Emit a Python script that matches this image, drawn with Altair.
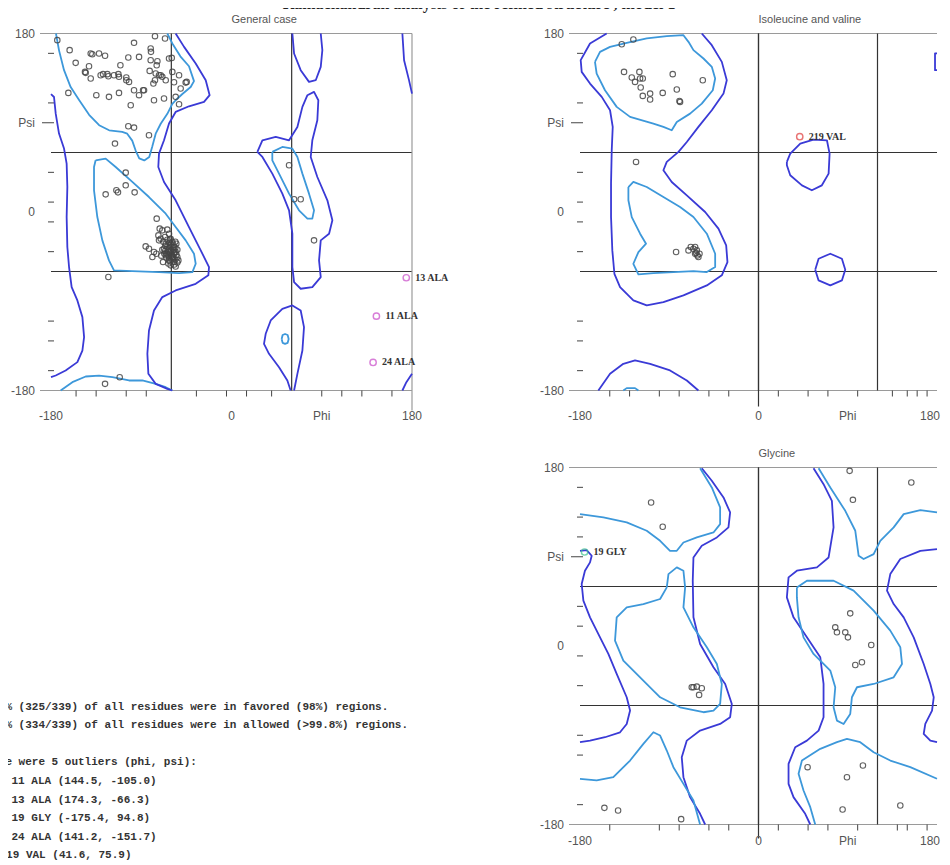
import altair as alt
import pandas as pd

DARK = "#3a3ad6"
LIGHT = "#3d98da"
GRID = "#333333"
FRAME = "#9a9a9a"
AXIS_TXT = "#555555"
PT = "#454545"

MAIN_TITLE = "Ramachandran analysis of the refined structure , model 1"
PANEL_TITLES = ["General case", "Isoleucine and valine", "Glycine"]

# ---------------- General case contours (phi, psi) ----------------
GEN_FAV_BETA = [(-175, 180), (-174.7, 178), (-172, 163), (-167, 143), (-160.4, 126), (-152, 113), (-142, 98),
                (-132, 87.5), (-122, 82.4), (-109, 80.7), (-104, 79), (-99, 72), (-95.6, 62), (-92, 54), (-87, 52),
                (-82, 55.5), (-79, 66), (-75.6, 79), (-70.6, 89), (-64, 99), (-59, 109), (-55.7, 112.7), (-49, 119),
                (-40.7, 126), (-37.4, 132), (-42.4, 147), (-51, 157), (-59, 170), (-64, 180)]
GEN_FAV_ALPHA = [(-135.5, 52.1), (-125.5, 53.8), (-115.5, 45.4), (-98.9, 30.3), (-82.3, 15.1), (-65.6, -1.7),
                 (-55.7, -15.2), (-45.7, -28.6), (-37.4, -42.1), (-35.7, -52.2), (-39, -60.6), (-52.3, -61.6),
                 (-72.3, -60.6), (-98.9, -59.6), (-117.2, -58.9), (-122.2, -48.8), (-128.8, -28.6), (-133.8, -5.1),
                 (-137.1, 21.9), (-137.1, 45.4), (-135.5, 52.1)]
GEN_FAV_BOTTOM = [(-170.4, -180), (-158.7, -171.6), (-145.4, -165.9), (-132.1, -164.9), (-118.8, -166.6),
                  (-102.2, -169.9), (-88.9, -169.9), (-75.6, -173.3), (-65.6, -176.7), (-59, -180)]
GEN_FAV_LALPHA = [(40.7, 60.6), (50.7, 65.6), (60.7, 63.9), (65.7, 55.5), (70.7, 38.7), (77.3, 18.5), (82.3, 1.7),
                  (80.6, -6.7), (75.7, -6.7), (67.3, 1.7), (57.4, 18.5), (47.4, 38.7), (40.7, 52.1), (40.7, 60.6)]
GEN_FAV_OVAL = [(50, -128), (51, -124), (53.4, -123), (56, -124), (57, -128), (56, -132), (53.4, -133), (51, -132),
                (50, -128)]
GEN_ALW_LEFT = [(-180, 118.8), (-177, 116), (-175.3, 99.2), (-172, 79.1), (-167, 64), (-164.4, 48.8), (-163.7, 25.2),
                (-164.4, -5.1), (-163.7, -35.3), (-162, -55.5), (-159.4, -75.7), (-153.7, -89.2), (-148.7, -106),
                (-147, -126.2), (-148.7, -139.7), (-153.7, -151.4), (-165.4, -159.8), (-175.3, -164.9), (-180, -166.6)]
GEN_ALW_EDGE_TOP = [(170.4, 180), (172.1, 153), (177, 133), (180, 119.4)]
GEN_ALW_EDGE_BOT = [(180, -163.2), (174.4, -171.6), (170.4, -180)]
GEN_ALW_MAIN = [(-55.7, 180), (-47.3, 166.5), (-35.7, 149.7), (-25.7, 132.9), (-21.8, 117.8), (-27.4, 111),
                (-42.4, 106.6), (-55.7, 100.9), (-62.3, 89.2), (-67.3, 72.3), (-72.3, 58.9), (-73, 45.4),
                (-67.3, 30.3), (-55.7, 11.8), (-42.4, -15.2), (-30.7, -38.7), (-22.4, -55.5), (-23.1, -63.9),
                (-35.7, -72.4), (-55.7, -79.1), (-69, -85.8), (-77.3, -99.3), (-82.3, -119.5), (-83.9, -143),
                (-82.9, -163.2), (-75.6, -173.3), (-64, -178.3), (-59, -180)]
GEN_ALW_LALPHA = [(25.8, 60.6), (30.8, 72.3), (44.1, 75.7), (57.4, 72.3), (65.7, 85.8), (70.7, 106), (75.7, 117.8),
                  (82.3, 121.1), (86.6, 112.7), (85.6, 92.5), (80.6, 72.3), (79, 55.5), (85.6, 35.3), (95.6, 11.8),
                  (100.6, -8.4), (97.3, -21.9), (89, -28.6), (87.3, -48.8), (89, -65.6), (80.6, -75.7), (69, -77.4),
                  (62.4, -70.7), (60.7, -55.5), (60.7, -21.9), (57.4, 1.7), (50.7, 18.5), (40.7, 38.7), (30.8, 55.5),
                  (25.8, 60.6)]
GEN_ALW_TOPU = [(60.7, 180), (62.4, 159.8), (69, 143), (77.3, 131.2), (84, 132.9), (89, 146.4), (90.6, 163.2),
                (89, 180)]
GEN_ALW_BOTU = [(59, -180), (55.7, -169.9), (47.4, -156.5), (37.4, -143), (32.4, -132.9), (34.1, -122.8),
                (39.1, -109.4), (50.7, -97.6), (60.7, -94.2), (69, -99.3), (72.3, -116.1), (70.7, -139.7),
                (65.7, -163.2), (62.4, -180)]

GEN_PTS = [(-161.4, 163.2), (-140.4, 159.8), (-138.8, 159.1), (-132.1, 159.8), (-126.1, 157.5), (-155.4, 150.4),
           (-142.1, 147), (-145.4, 140.3), (-128.1, 139), (-130.5, 137.9), (-123.8, 139), (-112.8, 139),
           (-112.2, 136.3), (-104.9, 135.6), (-102.2, 131.2), (-110.8, 148), (-102.9, 155.8), (-97.2, 170.6),
           (-92.2, 156.4), (-80.6, 164.9), (-80.3, 161.5), (-80.6, 153.1), (-73.9, 152.1), (-74.6, 148),
           (-81.6, 142.3), (-75.6, 139.6), (-70.6, 137.9), (-65.6, 132.9), (-59, 141.3), (-52.3, 137.9),
           (-45.7, 130.5), (-57.3, 130.9), (-50.7, 124.5), (-55.7, 116.1), (-67.3, 114.4), (-77.3, 112.7),
           (-87.2, 122.8), (-92.2, 117.8), (-97.2, 122.8), (-112.2, 120.1), (-122.2, 116.1), (-134.8, 117.8),
           (-162.7, 120.1), (-100.5, 107.7), (-102.9, 86.5), (-97.2, 85.1), (-82.3, 77.4), (-116.2, 69),
           (-76.3, 177.3), (-66.3, 175), (-59.6, 155.4), (-173.7, 173.3), (-146.1, 141.3), (-140.4, 134.6),
           (-122.8, 136.9), (-117.2, 137.9), (-104.9, 132.9), (-88.2, 122.8), (-77.9, 129.5), (-76.3, 132.9),
           (-72.3, 137.9), (-69, 136.3), (-62.3, 154.8), (-52.3, 108.7), (-44.7, 131.2),
           (-125.5, 17.8), (-114.8, 21.9), (-113.2, 19.8), (-105.5, 26.9), (-96.6, 19.8), (-105.5, 39.7),
           (-74.6, -6.7), (-71.6, -16.8), (-69, -18.5), (-64, -17.8), (-72.9, -23.6), (-70.6, -26.9),
           (-66.3, -25.2), (-62.3, -21.9), (-60.7, -26.9), (-65.6, -32), (-61.6, -33.7), (-59, -30.3),
           (-57.3, -35.3), (-60.7, -38.7), (-55.7, -40.4), (-64, -42.1), (-59, -45.4), (-54, -45.4),
           (-62.3, -48.8), (-57.3, -50.5), (-53, -48.8), (-85.6, -34.7), (-82.3, -37), (-77.3, -40.4),
           (-74.9, -42.1), (-78.9, -45.4), (-68.3, -50.5), (-60.7, -53.8), (-55.7, -54.9), (-122.8, -65.6),
           (-72.3, -28.6), (-67.3, -37), (-65.6, -43.7), (-59.6, -42.7), (-55, -32), (-62.9, -37),
           (-63, -40), (-61, -41), (-66, -39), (-58, -38), (-64, -35), (-60, -44), (-62, -46), (-57, -42),
           (-58, -33), (-56, -36), (-54, -38), (-57, -40), (-55, -43), (-58, -46), (-56, -48), (-61, -50),
           (-63, -44), (-65, -46), (-67, -42), (-66, -34), (-62, -31), (-60, -35), (-59, -47), (-54, -51),
           (-57, -53), (-63, -52), (-61, -28), (-64, -28), (-68, -30), (-69, -38), (-70, -44), (-56, -30),
           (57.4, 47.1), (62.4, 12.8), (69, 12.8), (82.3, -28.6), (-126.1, -173.3), (-111.5, -166.6)]
GEN_OUT = [("13 ALA", 174.3, -66.3, "#c848c8"), ("11 ALA", 144.5, -105.0, "#c848c8"),
           ("24 ALA", 141.2, -151.7, "#c848c8")]

# ---------------- Isoleucine and valine ----------------
ILE_FAV_BETA = [(-164.9, 151.4), (-159.8, 161.5), (-149.7, 166.5), (-132.9, 170.6), (-112.7, 175), (-92.5, 177.3),
                (-75.7, 178.3), (-70.6, 171.6), (-65.6, 163.2), (-55.5, 154.8), (-47.1, 146.4), (-43.7, 134.6),
                (-46.1, 122.8), (-57.2, 109.3), (-69, 99.2), (-82.4, 90.8), (-87.5, 82.4), (-95.9, 85.8),
                (-106, 89.2), (-129.5, 95.9), (-143, 106), (-154.8, 122.8), (-163.2, 139.6), (-164.9, 151.4)]
ILE_FAV_ALPHA = [(-131.2, 25.2), (-126.2, 30.3), (-112.7, 25.2), (-95.9, 15.1), (-79.1, 5), (-65.6, -5.1),
                 (-52.1, -21.9), (-43.7, -42.1), (-43.7, -55.5), (-52.1, -60.6), (-65.6, -59.6), (-85.8, -60.6),
                 (-106, -61.6), (-121.1, -62.9), (-126.2, -52.2), (-121.1, -40.4), (-113.4, -32), (-119.4, -21.9),
                 (-127.8, -5.1), (-131.2, 11.8), (-131.2, 25.2)]
ILE_FAV_BOTTOM = [(-136.3, -180), (-132.9, -177.6), (-124.5, -177.6), (-121.1, -180)]
ILE_ALW_MAIN = [(-153.1, 180), (-169.9, 169.9), (-179.3, 153.1), (-178.3, 141.3), (-169.9, 129.5), (-158.1, 116.1),
                (-149.7, 102.6), (-147, 85.8), (-148, 62.2), (-148.7, 28.6), (-148.7, -5.1), (-147.4, -38.7),
                (-145.3, -62.3), (-139.6, -75.7), (-126.2, -89.2), (-112.7, -94.2), (-95.9, -90.9), (-75.7, -84.1),
                (-52.1, -74), (-37, -63.9), (-31.3, -50.5), (-32.6, -33.7), (-40.4, -16.8), (-53.8, 0),
                (-72.3, 16.8), (-87.5, 30.3), (-95.9, 42.1), (-92.5, 50.5), (-80.7, 60.6), (-72.3, 70.6),
                (-60.6, 85.8), (-47.1, 102.6), (-35.3, 119.4), (-32, 132.9), (-37, 151.4), (-47.1, 168.2),
                (-57.2, 180)]
ILE_ALW_BOTTOM = [(-161.5, -180), (-149.7, -163.2), (-136.3, -153.1), (-124.5, -149.7), (-109.3, -153.1),
                  (-89.2, -159.8), (-72.3, -169.9), (-60.6, -180)]
ILE_ALW_RING1 = [(28.6, 50.5), (32, 58.9), (42.1, 69), (55.5, 73), (69, 72.3), (71.7, 58.9), (70.7, 38.7),
                 (63.9, 26.9), (53.8, 21.9), (43.8, 26.9), (32, 37), (28.6, 47.1), (28.6, 50.5)]
ILE_ALW_RING2 = [(57.2, -58.2), (60.6, -47.1), (72.4, -42.1), (84.1, -47.1), (87.5, -58.2), (84.1, -69),
                 (72.4, -74), (60.6, -69), (57.2, -58.2)]
ILE_ALW_EDGE = [(180, 160), (178, 160), (178, 143), (180, 143)]
ILE_PTS = [(-137.9, 169.2), (-126.2, 173.9), (-135.6, 141.3), (-127.8, 135.6), (-124.5, 131.2), (-120.1, 141.3),
           (-119.4, 134.6), (-116.7, 134.6), (-118.8, 125.5), (-116.7, 117.1), (-109.3, 119.4), (-109.3, 113.4),
           (-96.6, 120.1), (-86.5, 139), (-82.4, 123.5), (-79.7, 112), (-79.1, 111), (-56.2, 132.9),
           (-123.5, 50.5), (-83.1, -40.4), (-70.6, -38.7), (-68.3, -35.3), (-65.6, -37), (-63.9, -35.3),
           (-62.2, -38.7), (-62.9, -41.4), (-61.6, -43.8), (-60.6, -45.4), (-63.9, -42.1), (-59.5, -42.1)]
ILE_OUT = [("219 VAL", 41.6, 75.9, "#e03a3a")]

# ---------------- Glycine ----------------
GLY_ALW_A = [(-57.2, 179.3), (-47.1, 166.6), (-35.3, 149.8), (-28.6, 134.7), (-30.3, 119.6), (-42, 109.5),
             (-57.2, 101.1), (-65.6, 89.3), (-66.3, 65.8), (-65.6, 28.9), (-58.9, 2), (-45.4, -21.5),
             (-33.6, -38.3), (-26.9, -58.4), (-28.6, -71.8), (-38.7, -78.6), (-58.9, -85.3), (-72.3, -95.4),
             (-77.4, -112.1), (-75.7, -132.3), (-69, -152.4), (-58.9, -169.2), (-53.8, -180)]
GLY_ALW_LEFT = [(-180, 96), (-173.3, 96.7), (-168.2, 91), (-169.9, 84.3), (-175, 75.9), (-178.3, 62.5),
                (-176.6, 45.7), (-169.9, 28.9), (-159.8, 8.7), (-151.4, -8), (-143, -28.2), (-132.9, -51.7),
                (-129.5, -65.1), (-132.9, -78.6), (-139.6, -87), (-154.8, -92), (-169.9, -95.4), (-180, -97)]
GLY_ALW_MID = [(55.5, 179.3), (65.6, 163.2), (74, 146.4), (75.7, 119.6), (70.7, 89.3), (58.9, 79.3), (38.7, 75.9),
               (30.3, 69.2), (28.6, 49), (35.3, 28.9), (48.8, 8.7), (62.3, -11.4), (65.6, -38.3), (65.6, -71.8),
               (60.6, -85.3), (48.8, -95.4), (37, -102.1), (30.3, -118.9), (30.3, -139), (35.3, -152.4),
               (47.1, -169.2), (52.2, -180)]
GLY_ALW_RIGHT = [(180, 97.7), (163.2, 96), (143, 87.7), (132.9, 72.5), (129.6, 55.8), (136.3, 42.3), (146.4, 28.9),
                 (156.5, 8.7), (166.6, -18.1), (173.3, -38.3), (176.7, -51.7), (175, -65.1), (168.2, -78.6),
                 (166.6, -88.6), (173.3, -95.4), (180, -97)]
GLY_FAV_B = [(-180, 133), (-156.4, 129.6), (-132.9, 124.6), (-112.7, 116.2), (-99.2, 106.1), (-89.2, 96),
             (-82.4, 96), (-75.7, 104.4), (-62.2, 109.5), (-45.4, 114.5), (-38.7, 122.9), (-38.7, 139.7),
             (-47.1, 159.9), (-58.9, 179.3)]
GLY_FAV_C = [(-92.5, 59.1), (-90.8, 72.5), (-82.4, 79.3), (-75.7, 75.9), (-74, 59.1), (-75.7, 39), (-65.6, 18.8),
             (-52.1, -1.3), (-42, -18.1), (-37, -38.3), (-38.7, -58.4), (-45.4, -65.1), (-55.5, -66.8),
             (-79.1, -61.8), (-99.2, -51.7), (-119.4, -31.6), (-136.3, -14.8), (-144.7, 5.4), (-143, 28.9),
             (-132.9, 39), (-116.1, 42.3), (-99.2, 47.4), (-92.5, 59.1)]
GLY_FAV_D = [(-180, -133.9), (-163.2, -135.6), (-146.4, -132.3), (-129.5, -115.5), (-116.1, -98.7), (-106, -87),
             (-99.2, -90.3), (-92.5, -105.4), (-85.8, -122.2), (-75.7, -139), (-65.6, -155.8), (-58.9, -180)]
GLY_FAV_E = [(38.7, 59.1), (48.8, 65.8), (75.7, 65.8), (95.9, 55.8), (116.1, 35.6), (132.9, 15.5), (143, -1.3),
             (144.7, -18.1), (136.3, -31.6), (116.1, -38.3), (99.3, -41.6), (94.2, -51.7), (92.5, -68.5),
             (85.8, -78.6), (79.1, -75.2), (75.7, -61.8), (77.4, -41.6), (72.4, -24.8), (55.5, -8), (45.4, 8.7),
             (40.4, 28.9), (38.7, 49), (38.7, 59.1)]
GLY_FAV_F = [(60.6, 179.3), (72.4, 159.9), (87.5, 136.3), (97.6, 116.2), (101, 91), (106, 87.7), (116.1, 92.7),
             (122.8, 106.1), (136.3, 119.6), (146.4, 133), (163.2, 137), (180, 134.7)]
GLY_FAV_G = [(57.2, -180), (52.2, -162.5), (45.4, -145.7), (40.4, -128.9), (43.8, -115.5), (62.3, -103.7),
             (79.1, -97), (89.2, -93.7), (102.6, -97), (116.1, -107.1), (132.9, -115.5), (153.1, -122.2),
             (180, -133.9)]
GLY_PTS = [(-108.3, 144.7), (-96.6, 120.2), (91.9, 176.6), (95.2, 147.4), (154.1, 164.9), (92.5, 32.9),
           (77.4, 18.8), (79.1, 13.8), (87.5, 13.8), (90.2, 8.7), (113.7, 1), (104.3, -16.4), (97.6, -19.1),
           (-65.6, -41.6), (-62.2, -41), (-57.2, -42.6), (-59.9, -49.3), (-67.3, -41.6), (49.5, -122.2),
           (89.2, -132.3), (105.3, -120.5), (84.8, -164.9), (143, -160.8), (-155.4, -163.2), (-141.6, -165.9),
           (-78, -174.6)]
GLY_OUT = [("19 GLY", -175.4, 94.8, "#3cc48c")]

# ---------------- axis decorations ----------------
X_LABEL_POS = [-180, 0, 90]
X_LABELS = ["-180", "0", "Phi"]
Y_LABEL_POS = [180, 90, 0, -180]
Y_LABELS = ["180", "Psi", "0", "-180"]
GEN_XT = [-155, -135, -105, -85, -35, -5, 15, 40, 90, 110, 130, 160]
GEN_YT = [160, 110, 40, 10, -10, -40, -110, -130, -160]
ILE_XT = [-150, -130, -100, -80, -50, -30, 20, 50, 70, 100, 135, 150, 160, 170]
ILE_YT = [160, 110, 40, 10, -10, -40, -110, -130, -160]
GLY_XT = [-150, -100, -80, -50, -30, 20, 50, 70, 100, 140, 150, 170]
GLY_YT = [160, 130, 110, 40, 20, -10, -40, -90, -110, -160]

# ---------------- summary text ----------------
TXT = ["95.9% (325/339) of all residues were in favored (98%) regions.",
       "98.5% (334/339) of all residues were in allowed (>99.8%) regions.",
       "There were 5 outliers (phi, psi):",
       "11 ALA (144.5, -105.0)",
       "13 ALA (174.3, -66.3)",
       "19 GLY (-175.4, 94.8)",
       "24 ALA (141.2, -151.7)",
       "219 VAL (41.6, 75.9)"]
LINE_IDX = [0, 1, 3, 4, 5, 6, 7, 8]
LINE_GROUP = ["head", "head", "head", "item", "item", "item", "item", "item3"]

SC = alt.Scale(domain=[-180, 180], nice=False, zero=False)


def xs(f):
    return alt.X(f, type="quantitative", scale=SC, axis=None)


def ys(f):
    return alt.Y(f, type="quantitative", scale=SC, axis=None)


def contour_df(paths):
    rows = []
    for i, (kind, pts) in enumerate(paths):
        for j, (a, b) in enumerate(pts):
            rows.append({"seg": "s%d" % i, "kind": kind, "ord": j, "phi": a, "psi": b})
    return pd.DataFrame(rows)


def panel(title, paths, pts, outl, vlines, long_tick, xticks, yticks, W, H, xlab_dy, edge_label, main=None):
    L = []
    L.append(alt.Chart(pd.DataFrame({"psi": [180, -180]})).mark_rule(color=FRAME, strokeWidth=1.2)
             .encode(y=ys("psi"), x=alt.value(-11), x2=alt.value(W)))
    L.append(alt.Chart(pd.DataFrame({"phi": vlines})).mark_rule(color=GRID, strokeWidth=1.2).encode(x=xs("phi")))
    L.append(alt.Chart(pd.DataFrame({"psi": [60, -60]})).mark_rule(color=GRID, strokeWidth=1.2).encode(y=ys("psi")))
    lt_phi, lt_col, lt_len = long_tick
    L.append(alt.Chart(pd.DataFrame({"phi": [lt_phi]})).mark_rule(color=lt_col, strokeWidth=1.2)
             .encode(x=xs("phi"), y=alt.value(0), y2=alt.value(H + lt_len)))
    L.append(alt.Chart(pd.DataFrame({"phi": xticks})).mark_rule(color="#444", strokeWidth=1)
             .encode(x=xs("phi"), y=alt.value(H), y2=alt.value(H + 6)))
    L.append(alt.Chart(pd.DataFrame({"psi": yticks})).mark_rule(color="#444", strokeWidth=1)
             .encode(y=ys("psi"), x=alt.value(-3), x2=alt.value(3)))
    L.append(alt.Chart(pd.DataFrame({"psi": [90]})).mark_rule(color="#444", strokeWidth=1)
             .encode(y=ys("psi"), x=alt.value(-9), x2=alt.value(3)))
    L.append(alt.Chart(contour_df(paths)).mark_line(strokeWidth=1.8, strokeJoin="round").encode(
        x=xs("phi"), y=ys("psi"),
        color=alt.Color("kind:N", scale=alt.Scale(domain=["allowed", "favored"], range=[DARK, LIGHT]), legend=None),
        detail="seg:N", order="ord:Q"))
    L.append(alt.Chart(pd.DataFrame(pts, columns=["phi", "psi"])).mark_point(
        shape="circle", filled=False, size=30, strokeWidth=1.1, color=PT, opacity=0.85).encode(x=xs("phi"), y=ys("psi")))
    odf = pd.DataFrame(outl, columns=["name", "phi", "psi", "col"])
    L.append(alt.Chart(odf).mark_point(shape="circle", filled=False, size=40, strokeWidth=1.4).encode(
        x=xs("phi"), y=ys("psi"), stroke=alt.Stroke("col:N", scale=None)))
    L.append(alt.Chart(odf).mark_text(align="left", baseline="middle", dx=9, font="Liberation Serif", fontSize=10,
                                      fontWeight="bold", color="#333").encode(x=xs("phi"), y=ys("psi"), text="name:N"))
    L.append(alt.Chart(pd.DataFrame({"phi": X_LABEL_POS, "lab": X_LABELS})).mark_text(
        baseline="middle", font="Liberation Sans", fontSize=12, color=AXIS_TXT).encode(
        x=xs("phi"), y=alt.value(H + xlab_dy), text="lab:N"))
    e_align, e_dx = edge_label
    L.append(alt.Chart(pd.DataFrame({"phi": [180], "lab": ["180"]})).mark_text(
        baseline="middle", align=e_align, dx=e_dx, font="Liberation Sans", fontSize=12, color=AXIS_TXT).encode(
        x=xs("phi"), y=alt.value(H + xlab_dy), text="lab:N"))
    L.append(alt.Chart(pd.DataFrame({"psi": Y_LABEL_POS, "lab": Y_LABELS})).mark_text(
        align="right", baseline="middle", font="Liberation Sans", fontSize=12, color=AXIS_TXT).encode(
        y=ys("psi"), x=alt.value(-16), text="lab:N"))
    L.append(alt.Chart(pd.DataFrame({"t": [title]})).mark_text(
        align="left", baseline="alphabetic", font="Liberation Sans", fontSize=11, color=AXIS_TXT).encode(
        x=alt.datum(0), y=alt.value(-11), text="t:N"))
    if main:
        L.append(alt.Chart(pd.DataFrame({"t": [main]})).mark_text(
            align="center", baseline="alphabetic", font="Liberation Serif", fontSize=16, fontWeight="bold",
            color="#222").encode(x=alt.value(428), y=alt.value(-25), text="t:N"))
    return alt.layer(*L).properties(width=W, height=H)


gen = panel(PANEL_TITLES[0],
            [("favored", GEN_FAV_BETA), ("favored", GEN_FAV_ALPHA), ("favored", GEN_FAV_BOTTOM),
             ("favored", GEN_FAV_LALPHA), ("favored", GEN_FAV_OVAL), ("allowed", GEN_ALW_LEFT),
             ("allowed", GEN_ALW_EDGE_TOP), ("allowed", GEN_ALW_EDGE_BOT), ("allowed", GEN_ALW_MAIN),
             ("allowed", GEN_ALW_LALPHA), ("allowed", GEN_ALW_TOPU), ("allowed", GEN_ALW_BOTU)],
            GEN_PTS, GEN_OUT, [-60, 60], (180, FRAME, 20), GEN_XT, GEN_YT, 361, 357, 25, ("center", 0),
            main=MAIN_TITLE)

ile = panel(PANEL_TITLES[1],
            [("favored", ILE_FAV_BETA), ("favored", ILE_FAV_ALPHA), ("favored", ILE_FAV_BOTTOM),
             ("allowed", ILE_ALW_MAIN), ("allowed", ILE_ALW_BOTTOM), ("allowed", ILE_ALW_RING1),
             ("allowed", ILE_ALW_RING2), ("allowed", ILE_ALW_EDGE)],
            ILE_PTS, ILE_OUT, [0, 120], (0, GRID, 16), ILE_XT, ILE_YT, 357, 357, 25, ("right", 3))

gly = panel(PANEL_TITLES[2],
            [("allowed", GLY_ALW_A), ("allowed", GLY_ALW_LEFT), ("allowed", GLY_ALW_MID), ("allowed", GLY_ALW_RIGHT),
             ("favored", GLY_FAV_B), ("favored", GLY_FAV_C), ("favored", GLY_FAV_D), ("favored", GLY_FAV_E),
             ("favored", GLY_FAV_F), ("favored", GLY_FAV_G)],
            GLY_PTS, GLY_OUT, [0, 120], (0, GRID, 14), GLY_XT, GLY_YT, 357, 357, 16, ("right", 3))

tdf = pd.DataFrame({"line": LINE_IDX, "txt": TXT, "grp": LINE_GROUP})
TY = alt.Y("line:Q", scale=alt.Scale(domain=[-12.85, 6.34], reverse=True, nice=False, zero=False), axis=None)
tbase = alt.Chart(tdf).mark_text(align="left", baseline="middle", font="Liberation Mono", fontSize=11,
                                 fontWeight="bold", color="#333")
txt = alt.layer(
    tbase.transform_filter(alt.datum.grp == "head").encode(x=alt.value(-72), y=TY, text="txt:N"),
    tbase.transform_filter(alt.datum.grp == "item").encode(x=alt.value(-39.5), y=TY, text="txt:N"),
    tbase.transform_filter(alt.datum.grp == "item3").encode(x=alt.value(-51.5), y=TY, text="txt:N"),
).properties(width=361, height=357)

chart = alt.concat(gen, ile, txt, gly, columns=2, spacing={"row": 77, "column": 168},
                   bounds="flush", align="each").configure_view(stroke="transparent").properties(
    padding={"left": -30, "top": -13.5, "right": 0, "bottom": 0}, background="white")

chart.save("out.html", embed_options={"renderer": "svg", "actions": False})
